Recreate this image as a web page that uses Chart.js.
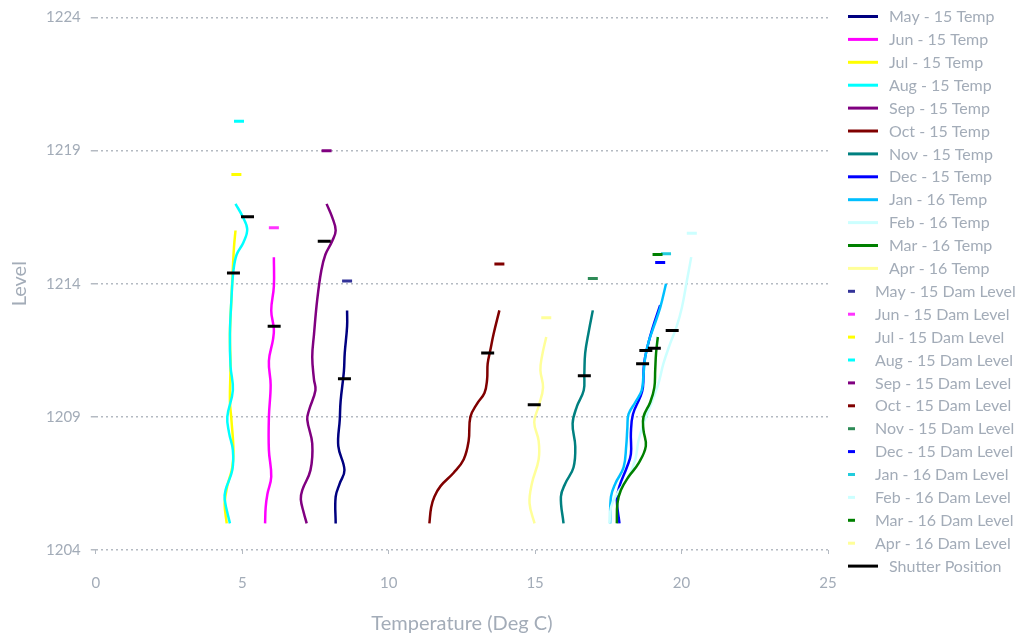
<!DOCTYPE html>
<html>
<head>
<meta charset="utf-8">
<script src="https://cdn.jsdelivr.net/npm/chart.js@4.4.1/dist/chart.umd.min.js"></script>
<style>
  html, body { margin: 0; padding: 0; background: #ffffff; }
  #wrap { width: 1020px; height: 636px; }
</style>
</head>
<body>
<div id="wrap"><canvas id="chart" width="1020" height="636"></canvas></div>
<script>
// Monthly reservoir temperature profiles: [temperature (deg C), level]
const months = ['May - 15', 'Jun - 15', 'Jul - 15', 'Aug - 15', 'Sep - 15', 'Oct - 15',
                'Nov - 15', 'Dec - 15', 'Jan - 16', 'Feb - 16', 'Mar - 16', 'Apr - 16'];

const may15Temp = [[8.19,1205],[8.19,1206],[8.33,1206.5],[8.49,1207],[8.28,1207.9],[8.33,1208.9],
                   [8.36,1209.6],[8.47,1210.7],[8.5,1211.4],[8.58,1212.4],[8.58,1213]];
const jun15Temp = [[5.78,1205],[5.8,1205.6],[5.86,1206.1],[5.99,1206.75],[5.91,1207.75],[5.91,1209],
                   [5.97,1210.2],[5.91,1211.1],[6.05,1211.9],[6.08,1212.3],[5.99,1213],[6.08,1213.9],[6.08,1215]];
const jul15Temp = [[4.47,1205],[4.4,1205.75],[4.49,1206.4],[4.66,1207.1],[4.7,1207.75],[4.63,1208.9],
                   [4.58,1209.6],[4.6,1210.9],[4.58,1212.1],[4.63,1213.4],[4.68,1214.6],[4.72,1215.4],[4.77,1216]];
const aug15Temp = [[4.58,1205],[4.4,1205.9],[4.43,1206.25],[4.66,1207],[4.68,1207.75],[4.55,1208.4],
                   [4.49,1209],[4.68,1210],[4.6,1210.9],[4.58,1212.1],[4.63,1213.4],[4.7,1214.5],
                   [4.81,1215.1],[5.04,1215.55],[5.17,1216.05],[5.0,1216.55],[4.77,1217]];
const sep15Temp = [[7.2,1205],[7.1,1205.4],[7.0,1205.9],[7.05,1206.25],[7.33,1207],[7.39,1208],
                   [7.22,1208.9],[7.28,1209.25],[7.5,1210],[7.45,1210.4],[7.39,1211.25],[7.45,1212.1],
                   [7.56,1213.4],[7.7,1214.5],[7.84,1215.1],[8.07,1215.6],[8.19,1216],[8.07,1216.5],[7.88,1217]];
const oct15Temp = [[11.39,1205],[11.45,1205.6],[11.56,1206],[11.77,1206.4],[12.22,1206.9],[12.56,1207.4],
                   [12.73,1208.1],[12.79,1209],[13.02,1209.5],[13.27,1209.9],[13.36,1210.4],[13.38,1211],
                   [13.47,1211.5],[13.58,1212.1],[13.78,1213]];
const nov15Temp = [[15.97,1205],[15.88,1206],[16.03,1206.5],[16.31,1207.1],[16.37,1207.9],[16.28,1208.75],
                   [16.43,1209.4],[16.66,1210],[16.68,1210.6],[16.71,1211.4],[16.83,1212.2],[16.97,1213]];
const dec15Temp = [[17.88,1205],[17.79,1205.9],[17.88,1206.4],[18.13,1207.1],[18.27,1207.6],[18.27,1208.4],
                   [18.34,1209.1],[18.59,1209.75],[18.68,1210.1],[18.72,1211],[18.85,1211.7],[19.0,1212.3],[19.27,1213.2]];
const jan16Temp = [[17.56,1205],[17.59,1206],[17.74,1206.5],[18.02,1207.1],[18.11,1207.9],[18.15,1208.6],
                   [18.19,1209.1],[18.42,1209.55],[18.64,1210],[18.7,1210.6],[18.76,1211.25],[18.87,1211.8],
                   [19.04,1212.35],[19.27,1213.1],[19.47,1214]];
const feb16Temp = [[17.54,1205],[17.59,1205.6],[17.79,1206.1],[18.19,1206.75],[18.42,1207.4],[18.53,1208.1],
                   [18.7,1208.75],[18.93,1209.4],[19.21,1210.25],[19.38,1211],[19.61,1211.75],[19.82,1212.35],
                   [20.01,1213.1],[20.18,1214.1],[20.33,1215]];
const mar16Temp = [[17.79,1205],[17.81,1205.75],[17.93,1206.25],[18.19,1206.75],[18.53,1207.25],[18.78,1207.9],
                   [18.7,1208.5],[18.7,1209],[18.93,1209.55],[19.07,1210.1],[19.1,1210.75],[19.13,1211.4],[19.19,1212]];
const apr16Temp = [[14.98,1205],[14.81,1205.75],[14.89,1206.5],[15.12,1207.4],[15.12,1208.1],[14.97,1208.8],
                   [15.12,1209.4],[15.27,1210.1],[15.18,1210.75],[15.23,1211.25],[15.38,1212]];

const tempProfiles = [may15Temp, jun15Temp, jul15Temp, aug15Temp, sep15Temp, oct15Temp,
                      nov15Temp, dec15Temp, jan16Temp, feb16Temp, mar16Temp, apr16Temp];

// Dam level each month, marked at the surface temperature
const damLevels = [1214.1, 1216.1, 1218.1, 1220.1, 1219.0, 1214.74, 1214.2, 1214.8, 1215.13, 1215.9, 1215.1, 1212.72];
const damTemps  = [8.58, 6.08, 4.8, 4.89, 7.88, 13.78, 16.97, 19.27, 19.47, 20.35, 19.18, 15.38];

// Shutter position each month
const shutterTemps  = [8.49, 6.09, 4.7, 5.18, 7.8, 13.38, 16.68, 18.67, 18.78, 19.68, 19.07, 14.97];
const shutterLevels = [1210.43, 1212.4, 1214.4, 1216.52, 1215.6, 1211.4, 1210.54, 1211.0, 1211.49, 1212.24, 1211.58, 1209.46];

const xTicks = [0, 5, 10, 15, 20, 25];
const yTicks = [1204, 1209, 1214, 1219, 1224];

const tempColors = ['#000080', '#ff00ff', '#ffff00', '#00ffff', '#800080', '#800000',
                    '#008080', '#0000ff', '#00bfff', '#ccffff', '#008000', '#ffff99'];
const damColors  = ['#333399', '#ff33ff', '#ffff00', '#00ffff', '#800080', '#800000',
                    '#2e8b57', '#0000ff', '#22ccdd', '#ccffff', '#008000', '#ffff99'];

const textColor = '#a3acb8';
const gridColor = '#b4bac2';
const fontFamily = 'Lato, "Open Sans", sans-serif';

const datasets = [];
months.forEach((m, i) => {
  datasets.push({
    label: m + ' Temp',
    legendMark: 'line',
    data: tempProfiles[i].map(p => ({ x: p[0], y: p[1] })),
    showLine: true,
    borderColor: tempColors[i],
    backgroundColor: tempColors[i],
    borderWidth: 2.5,
    tension: 0.4,
    pointRadius: 0,
    fill: false
  });
});
months.forEach((m, i) => {
  datasets.push({
    label: m + ' Dam Level',
    legendMark: 'dash',
    data: [{ x: damTemps[i], y: damLevels[i] }],
    showLine: false,
    borderColor: damColors[i],
    backgroundColor: damColors[i],
    pointStyle: 'line',
    pointRadius: 5,
    pointBorderWidth: 3,
    pointBorderColor: damColors[i]
  });
});
datasets.push({
  label: 'Shutter Position',
  legendMark: 'line',
  data: shutterTemps.map((t, i) => ({ x: t, y: shutterLevels[i] })),
  showLine: false,
  borderColor: '#000000',
  backgroundColor: '#000000',
  pointStyle: 'line',
  pointRadius: 6.5,
  pointBorderWidth: 3,
  pointBorderColor: '#000000'
});
// later series paint over earlier ones
datasets.forEach((d, i) => { d.order = datasets.length - i; });

// Legend column on the right: long stroke for profiles, short dash for levels
const sideLegend = {
  id: 'sideLegend',
  afterDraw(chart) {
    const ctx = chart.ctx;
    const x0 = chart.chartArea.right + 20;
    const top = 16.5;
    const rowH = 22.9;
    ctx.save();
    ctx.font = '16px ' + fontFamily;
    ctx.textBaseline = 'middle';
    ctx.textAlign = 'left';
    chart.data.datasets.forEach((ds, i) => {
      const y = top + i * rowH;
      const w = ds.legendMark === 'dash' ? 7 : 30;
      ctx.beginPath();
      ctx.strokeStyle = ds.borderColor;
      ctx.lineWidth = 3;
      ctx.moveTo(x0, y);
      ctx.lineTo(x0 + w, y);
      ctx.stroke();
      ctx.fillStyle = textColor;
      ctx.fillText(ds.label, x0 + (ds.legendMark === 'dash' ? 27 : 41), y + 0.5);
    });
    ctx.restore();
  }
};

new Chart(document.getElementById('chart'), {
  type: 'scatter',
  data: { datasets },
  options: {
    responsive: false,
    animation: false,
    devicePixelRatio: 1,
    events: [],
    layout: { padding: { left: 0, right: 192, top: 0, bottom: 0 } },
    plugins: {
      legend: { display: false },
      tooltip: { enabled: false }
    },
    scales: {
      x: {
        type: 'linear',
        min: xTicks[0],
        max: xTicks[xTicks.length - 1],
        afterBuildTicks: (scale) => { scale.ticks = xTicks.map(v => ({ value: v })); },
        grid: { drawOnChartArea: false, drawTicks: true, tickLength: 4, color: gridColor, lineWidth: 1 },
        border: { display: false },
        ticks: { color: textColor, font: { family: fontFamily, size: 15 }, padding: 20, maxRotation: 0,
                 callback: (v) => String(v) },
        title: {
          display: true,
          text: 'Temperature (Deg C)',
          color: textColor,
          font: { family: fontFamily, size: 20 },
          padding: { top: 0, bottom: 0 }
        }
      },
      y: {
        type: 'linear',
        min: yTicks[0],
        max: yTicks[yTicks.length - 1],
        afterBuildTicks: (scale) => { scale.ticks = yTicks.map(v => ({ value: v })); },
        grid: { color: gridColor, lineWidth: 1.5, tickLength: 5 },
        border: { display: false, dash: [2, 3] },
        ticks: { color: textColor, font: { family: fontFamily, size: 15, lineHeight: 1.0 }, padding: 10,
                 callback: (v) => String(v) },
        title: {
          display: true,
          text: 'Level',
          color: textColor,
          font: { family: fontFamily, size: 20 },
          padding: { top: 8, bottom: 4 }
        }
      }
    }
  },
  plugins: [sideLegend]
});
</script>
</body>
</html>
